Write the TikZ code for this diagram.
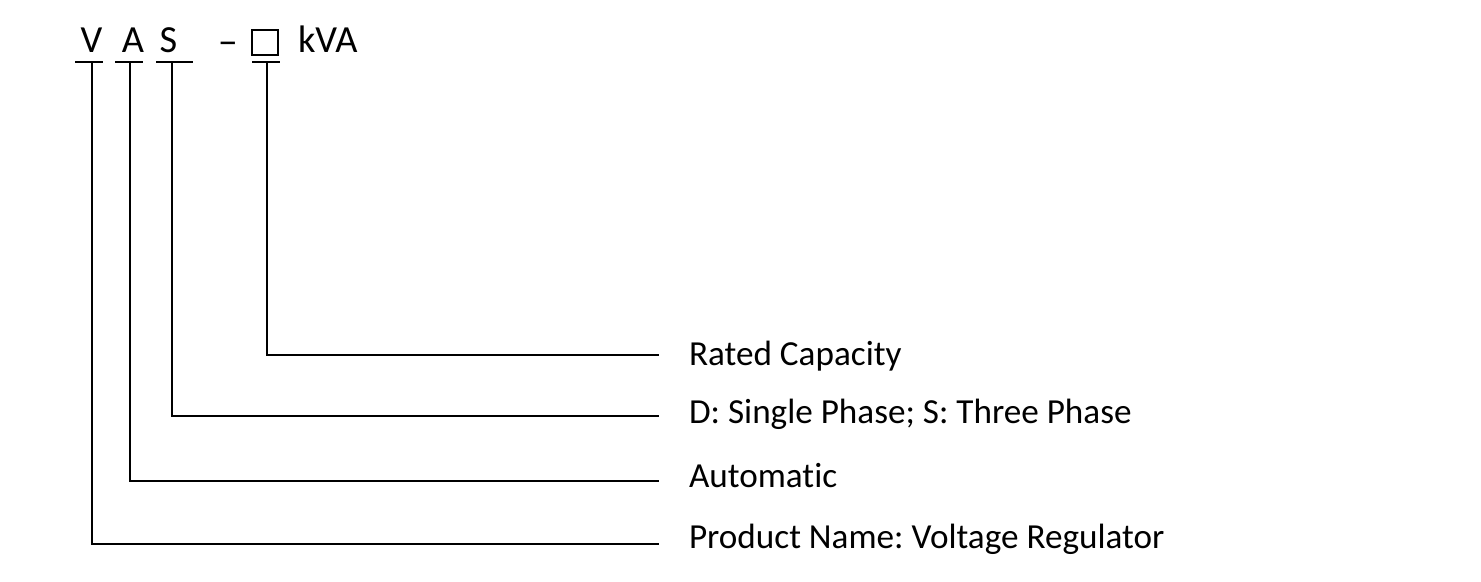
\documentclass[tikz,border=0pt]{standalone}
\usepackage{fontspec}
\setmainfont{Carlito}[Ligatures={NoCommon}]
\usepackage{tikz}
\frenchspacing

\begin{document}
\begin{tikzpicture}[x=0.01cm, y=-0.01cm, line width=0.6pt,
  code/.style={anchor=base, inner sep=0pt, font=\fontsize{10.9pt}{13pt}\selectfont},
  label/.style={anchor=base west, inner sep=0pt, font=\fontsize{10pt}{12pt}\selectfont}]
  \useasboundingbox (0,0) rectangle (1481,582);
  \node[code] (cV) at (91.5,53) {V};
  \node[code] (cA) at (133,53) {A};
  \node[code] (cS) at (168.5,53) {S};
  \node[code] (dash) at (228,56) {−};
  \node[draw, line width=0.5pt, inner sep=0pt, minimum width=0.26cm, minimum height=0.25cm] (box) at (265,42.5) {};
  \node[code, anchor=base west] (kva) at (297,53) {kVA};
  \draw (75,62) -- (103,62);
  \draw (115,62) -- (143,62);
  \draw (156,62) -- (193,62);
  \draw (252,62) -- (280,62);
  \coordinate (uV) at (92,62);
  \coordinate (uA) at (130,62);
  \coordinate (uS) at (172,62);
  \coordinate (uB) at (267,62);
  \coordinate (eB) at (659,355);
  \coordinate (eS) at (659,416);
  \coordinate (eA) at (659,481);
  \coordinate (eV) at (659,544);
  \node[label] (rated) at (688,365.5) {Rated Capacity};
  \node[label] (phase) at (688,423.5) {D: Single Phase; S: Three Phase};
  \node[label] (auto) at (688,488) {Automatic};
  \node[label] (prod) at (688,548) {Product Name: Voltage Regulator};
  \draw (uB) |- (eB);
  \draw (uS) |- (eS);
  \draw (uA) |- (eA);
  \draw (uV) |- (eV);
\end{tikzpicture}
\end{document}
